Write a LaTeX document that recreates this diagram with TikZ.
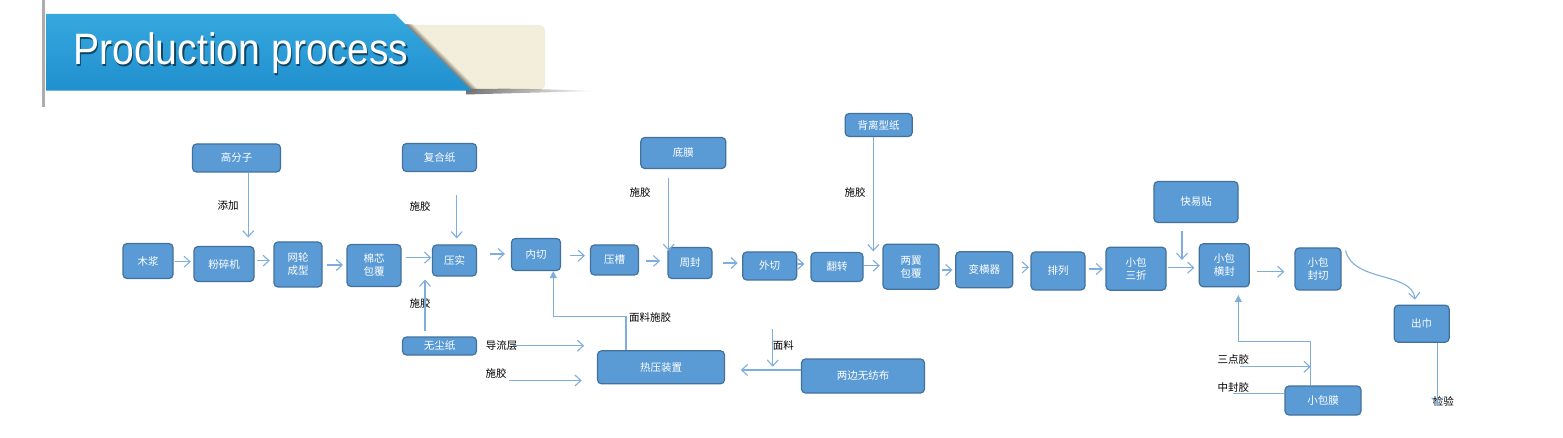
\documentclass[tikz,border=0pt]{standalone}
\usepackage{graphicx}
\usepackage{fontspec}
\setmainfont{Liberation Sans}
\newfontfamily\cjk{Noto Sans CJK SC}
\usetikzlibrary{arrows.meta,calc,fadings}
\definecolor{boxfill}{HTML}{5B9BD5}
\definecolor{boxline}{HTML}{41719C}
\definecolor{arrc}{HTML}{7FAEDE}
\definecolor{bannerTop}{HTML}{35A8DE}
\definecolor{bannerBot}{HTML}{2190CF}
\definecolor{cream}{HTML}{F3EEDB}
\newcommand\myharr[5]{\draw[arr, shorten <=#4pt, shorten >=#5pt] ([shift={(0,#3)}]#1.east) -- ([shift={(0,#3)}]#1.east -| #2.west);}
\begin{document}
\begin{tikzpicture}[x=1pt,y=-1pt,
  box/.style={draw=boxline, fill=boxfill, line width=1.2pt, rounded corners=4pt, text=white,
    font=\cjk\fontsize{10.5}{13}\selectfont, align=center, inner sep=0pt},
  sz/.style 2 args={minimum width=#1pt, minimum height=#2pt},
  lbl/.style={font=\cjk\fontsize{10.5}{13}\selectfont, text=black, inner sep=0pt},
  arr/.style={draw=arrc, line width=1.1pt, -{Straight Barb[length=6pt,width=11pt]}},
  arrf/.style={draw=arrc, line width=1.1pt, -{Triangle[length=7pt,width=7pt]}},
  ln/.style={draw=arrc, line width=1.1pt}]
\useasboundingbox (0,0) rectangle (1563,438);
\fill[white] (0,0) rectangle (1563,438);

% ---- header ----
\fill[gray!65] (42.3,0) rectangle (44.5,107);
\fill[cream, rounded corners=6pt] (400,25) -- (545,25) -- (545,90.5) -- (440,90.5) -- cycle;
\begin{scope}
  \clip (400,25) rectangle (545,90.7);
  \foreach \i in {0,...,7}
    \draw[black, opacity={0.3*(1-\i/8)}, line width=1.2pt] ({395+\i},14) -- ({471.7+\i},90.7);
\end{scope}
\fill[black!55, path fading=east] (466,89) .. controls (520,88.5) .. (598,91) .. controls (520,93) .. (466,94.5) -- cycle;
\shade[top color=bannerTop, bottom color=bannerBot] (46,14) -- (395,14) -- (471.7,90.7) -- (46,90.7) -- cycle;
\node[anchor=base west, inner sep=0pt, text=black, opacity=0.55, font=\fontsize{44}{44}\selectfont] (titleshadow) at (74.5,66.5) {\scalebox{0.89}[1]{Production process}};
\node[anchor=base west, inner sep=0pt, text=white, font=\fontsize{44}{44}\selectfont] (title) at (73,65) {\scalebox{0.89}[1]{Production process}};

% ---- boxes ----
\node[box,sz={50}{35}] (mujiang) at (148,261) {木浆};
\node[box,sz={60}{35}] (fensui) at (224,264) {粉碎机};
\node[box,sz={48}{45}] (wanglun) at (298,264.5) {网轮\\成型};
\node[box,sz={54}{42}] (mianxin) at (374,265.5) {棉芯\\包覆};
\node[box,sz={44}{31}] (yashi) at (454.5,260.5) {压实};
\node[box,sz={88}{28}] (gaofenzi) at (236.5,158) {高分子};
\node[box,sz={74}{28}] (fuhezhi) at (439.5,157.5) {复合纸};
\node[box,sz={74}{18}] (wuchen) at (439.5,346) {无尘纸};
\node[box,sz={49}{32}] (neiqie) at (536,254.5) {内切};
\node[box,sz={48}{30}] (yacao) at (614.5,260) {压槽};
\node[box,sz={44}{31}] (zhoufeng) at (690,263) {周封};
\node[box,sz={54}{28}] (waiqie) at (769.7,266) {外切};
\node[box,sz={52}{29}] (fanzhuan) at (837,267) {翻转};
\node[box,sz={56}{45}] (liangyi) at (911,266.7) {两翼\\包覆};
\node[box,sz={85}{31}] (dimo) at (683.3,153) {底膜};
\node[box,sz={67}{23}] (beili) at (878.7,125) {背离型纸};
\node[box,sz={127}{33}] (reya) at (661,367.3) {热压装置};
\node[box,sz={123}{34}] (liangbian) at (863,376) {两边无纺布};
\node[box,sz={57}{36}] (bianheng) at (984.3,269.7) {变横器};
\node[box,sz={54}{38}] (pailie) at (1058,271) {排列};
\node[box,sz={60}{43}] (sanzhe) at (1136,268.7) {小包\\三折};
\node[box,sz={50}{43}] (hengfeng) at (1224.3,265.3) {小包\\横封};
\node[box,sz={84}{41}] (kuaiyi) at (1196,202) {快易贴};
\node[box,sz={46}{42}] (fengqie) at (1318,269) {小包\\封切};
\node[box,sz={55}{37}] (chujin) at (1421.7,323.7) {出巾};
\node[box,sz={76}{29}] (xiaobaomo) at (1323,400.5) {小包膜};

% ---- labels ----
\node[lbl] (l_tianjia) at (228,206) {添加};
\node[lbl] (l_sj1) at (420,206.7) {施胶};
\node[lbl] (l_sj2) at (420,304) {施胶};
\node[lbl] (l_daoliu) at (501.7,345.7) {导流层};
\node[lbl] (l_sj3) at (496,373.3) {施胶};
\node[lbl] (l_mlsj) at (650,317.7) {面料施胶};
\node[lbl] (l_sj4) at (640,192.3) {施胶};
\node[lbl] (l_sj5) at (855,192.3) {施胶};
\node[lbl] (l_mianliao) at (783.3,345.7) {面料};
\node[lbl] (l_sandian) at (1233.3,359.3) {三点胶};
\node[lbl] (l_zhongfeng) at (1233.3,387.3) {中封胶};
\node[lbl] (l_jianyan) at (1443.3,401.7) {检验};

% ---- main flow ----
\myharr{mujiang}{fensui}{0.7}{1}{2.6}
\myharr{fensui}{wanglun}{-3.3}{2.7}{3.6}
\myharr{wanglun}{mianxin}{0.5}{4.4}{3.4}
\myharr{mianxin}{yashi}{-7.8}{4.3}{0.6}
\myharr{yashi}{neiqie}{-6.5}{13}{6}
\myharr{neiqie}{yacao}{1.2}{8.6}{5}
\myharr{yacao}{zhoufeng}{1}{6.7}{7.3}
\myharr{zhoufeng}{waiqie}{0}{10}{4.4}
\myharr{waiqie}{fanzhuan}{-2}{0}{6}
\myharr{fanzhuan}{liangyi}{-1.3}{0.6}{2.6}
\myharr{liangyi}{bianheng}{3.3}{2}{2.7}
\myharr{bianheng}{pailie}{-2.4}{9}{1.4}
\myharr{pailie}{sanzhe}{-2}{3.3}{2.4}
\myharr{sanzhe}{hengfeng}{-1}{1.7}{4.3}
\myharr{hengfeng}{fengqie}{6.4}{6.7}{10}

% ---- vertical feeds ----
\draw[arr, shorten >=8.4pt] ([shift={(11.8,0)}]gaofenzi.south) -- ([shift={(11.8,0)}]gaofenzi.south |- fensui.north);
\draw[arr, shorten <=23.3pt, shorten >=6pt] ([shift={(17.2,0)}]fuhezhi.south) -- ([shift={(17.2,0)}]fuhezhi.south |- yashi.north);
\draw[arr, shorten <=5pt, shorten >=3pt] ([shift={(-14.5,0)}]wuchen.north) -- ([shift={(-14.5,0)}]wuchen.north |- yashi.south);
\draw[arr, shorten <=9pt, shorten >=-4pt] ([shift={(-14.6,0)}]dimo.south) -- ([shift={(-14.6,0)}]dimo.south |- zhoufeng.north);
\draw[arr, shorten >=-7.7pt] ([shift={(-5.4,0)}]beili.south) -- ([shift={(-5.4,0)}]beili.south |- liangyi.north);
\draw[arr, shorten <=8.3pt, shorten >=-16.7pt] ([shift={(-14,0)}]kuaiyi.south) -- ([shift={(-14,0)}]kuaiyi.south |- hengfeng.north);

% ---- hot press ----
\draw[arrf] ([shift={(-35,0)}]reya.north) -- ++(0,-34) -| ([shift={(17.3,0)}]neiqie.south);
\draw[arr, shorten <=-4.5pt, shorten >=12.7pt] (l_daoliu.east) -- (l_daoliu.east -| reya.west);
\draw[arr, shorten >=17.7pt] ([shift={(2.5,7.2)}]l_sj3.east) -- ([shift={(2.5,7.2)}]l_sj3.east -| reya.west);
\coordinate (lbline) at ([shift={(0,-6)}]liangbian.west);
\draw[arr, shorten >=15.7pt] (lbline) -- (lbline -| reya.east);
\coordinate (mlstart) at (772.7,329);
\draw[arr, shorten >=3.3pt] (mlstart) -- (mlstart |- lbline);

% ---- small pack film ----
\coordinate (moup) at ([shift={(-12.3,0)}]xiaobaomo.north);
\draw[arrf, shorten >=7.6pt] (moup) -- ++(0,-44.3) -| ([shift={(14,0)}]hengfeng.south);
\coordinate (sdstart) at ([shift={(6.7,7.4)}]l_sandian.center);
\draw[arr] (sdstart) -- (sdstart -| moup);
\draw[ln] ([shift={(0,6)}]l_zhongfeng.center) -- ([shift={(0,6)}]l_zhongfeng.center -| xiaobaomo.west);

% ---- exit ----
\draw[arr] ([shift={(4,3)}]fengqie.north east) .. controls +(7,32) and +(-3,-28) .. ([shift={(-6.7,-5)}]chujin.north);
\draw[arr, shorten >=-3pt] ([shift={(15.6,0)}]chujin.south) -- ([shift={(15.6,0)}]chujin.south |- l_jianyan.center);
\end{tikzpicture}
\end{document}
